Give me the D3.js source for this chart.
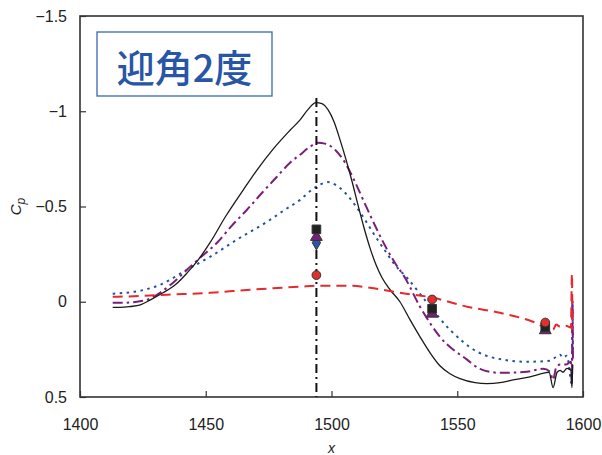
<!DOCTYPE html>
<html>
<head>
<meta charset="utf-8">
<script src="https://cdn.jsdelivr.net/npm/d3@7"></script>
<style>
  body { margin: 0; background: #fff; }
  svg { display: block; font-family: "Liberation Sans", Arial, sans-serif; }
</style>
</head>
<body>
<svg></svg>
<script>
var svgWidth = 602;
var svgHeight = 455;
var margin = {top: 16, right: 19, bottom: 58, left: 80};

var xTicks = [1400, 1450, 1500, 1550, 1600];
var yTicks = [-1.5, -1, -0.5, 0, 0.5];
var legendText = "迎角2度";

// solid black
var seriesBlack = [
  [1413, 0.03], [1416, 0.03], [1420, 0.025], [1424, 0.016], [1428, -0.01],
  [1433, -0.047], [1438, -0.09], [1442.5, -0.15], [1447, -0.22], [1451.7, -0.31],
  [1458, -0.45], [1464.8, -0.585], [1470, -0.685], [1476.7, -0.8], [1483.5, -0.9],
  [1487.5, -0.955], [1490.7, -1.01], [1493.8, -1.045], [1496.2, -1.04], [1498.6, -1.008],
  [1501, -0.945], [1503.4, -0.85], [1505.8, -0.745], [1508.2, -0.63], [1510.5, -0.51],
  [1512.9, -0.39], [1515.3, -0.283], [1517.7, -0.194], [1520.1, -0.126], [1523.3, -0.063],
  [1527.2, 0], [1531.2, 0.094], [1535.2, 0.184], [1539.2, 0.268], [1543.1, 0.336],
  [1547.1, 0.378], [1551.1, 0.404], [1557.1, 0.425], [1561.8, 0.43], [1567, 0.425],
  [1572.2, 0.41], [1578.9, 0.394], [1584.9, 0.373], [1586.5, 0.37], [1588.1, 0.45],
  [1589.7, 0.37], [1590.9, 0.36], [1592, 0.37], [1593.6, 0.35], [1595.2, 0.36],
  [1595.6, 0.45], [1595.9, 0.33]
];

// purple dash-dot
var seriesPurple = [
  [1413, 0.005], [1418, 0.005], [1422.7, 0], [1427.8, -0.016], [1431.8, -0.047],
  [1437, -0.1], [1442.5, -0.168], [1447.7, -0.23], [1454.5, -0.31], [1460.4, -0.4],
  [1466.4, -0.483], [1472.4, -0.572], [1478.3, -0.656], [1483.5, -0.73], [1487.5, -0.772],
  [1491.5, -0.814], [1494.6, -0.835], [1497.4, -0.83], [1501.4, -0.798], [1505.4, -0.73],
  [1509.3, -0.63], [1513.3, -0.514], [1517.3, -0.4], [1521.3, -0.294], [1525.2, -0.205],
  [1529.2, -0.126], [1535.2, 0.026], [1543.1, 0.184], [1553.9, 0.304], [1559, 0.352],
  [1567, 0.373], [1577.7, 0.367], [1584.1, 0.352], [1586.9, 0.367], [1588.1, 0.41],
  [1589.3, 0.346], [1590.9, 0.33], [1593.2, 0.33], [1595.2, 0.315], [1595.6, 0.436],
  [1595.8, -0.01], [1596, 0.3]
];

// blue dotted
var seriesBlue = [
  [1413, -0.042], [1418, -0.047], [1424, -0.058], [1431.8, -0.089], [1442.5, -0.168],
  [1451.7, -0.236], [1463.6, -0.336], [1474.4, -0.42], [1481.5, -0.483], [1487.5, -0.535],
  [1492.2, -0.588], [1495.4, -0.615], [1498.6, -0.628], [1501.8, -0.612], [1505.4, -0.572],
  [1509.3, -0.509], [1513.3, -0.43], [1517.3, -0.346], [1521.3, -0.268], [1525.2, -0.194],
  [1530, -0.126], [1538, 0.005], [1547.1, 0.147], [1557.9, 0.262], [1568.2, 0.304],
  [1577.7, 0.315], [1586.9, 0.31], [1589.3, 0.289], [1590.9, 0.278], [1592, 0.294],
  [1593.6, 0.283], [1595.6, 0.436], [1595.8, 0.016], [1596, 0.3]
];

// red dashed
var seriesRed = [
  [1413, -0.026], [1424, -0.03], [1434.6, -0.037], [1451.7, -0.047], [1467.6, -0.063],
  [1487.5, -0.079], [1495.4, -0.084], [1507.4, -0.084], [1515.3, -0.073], [1527.2, -0.047],
  [1540.4, -0.021], [1553.9, 0.026], [1567, 0.058], [1580.1, 0.105], [1584.9, 0.131],
  [1586.9, 0.126], [1588.1, 0.147], [1589.3, 0.12], [1590.9, 0.131], [1593.2, 0.126],
  [1595.2, 0.136], [1595.6, -0.147], [1595.8, 0.147]
];

var markRed = [[1494, -0.14], [1540, -0.012], [1585, 0.109]];
var markBlue = [[1494, -0.31]];
var markPurple = [[1494, -0.34], [1540, 0.063], [1585, 0.15]];
var markBlack = [[1494, -0.38], [1540, 0.037], [1585, 0.133]];

var stationX = 1494;
var stationTop = -1.07;

var svg = d3.select("svg")
  .attr("width", svgWidth)
  .attr("height", svgHeight);

var w = svgWidth - margin.left - margin.right;
var h = svgHeight - margin.top - margin.bottom;

var x = d3.scaleLinear().domain([1400, 1600]).range([0, w]);
var y = d3.scaleLinear().domain([-1.5, 0.5]).range([0, h]);

var g = svg.append("g")
  .attr("transform", "translate(" + margin.left + "," + margin.top + ")");

var fmt = function(d) { return d < 0 ? "\u2212" + Math.abs(d) : String(d); };

g.append("g")
  .attr("transform", "translate(0," + h + ")")
  .call(d3.axisBottom(x).tickValues(xTicks).tickSize(-6).tickPadding(22).tickFormat(d3.format("d")))
  .call(function(a) {
    a.select(".domain").remove();
    a.selectAll("line").attr("stroke", "#333").attr("stroke-width", 1.2);
    a.selectAll("text").attr("font-size", 16).attr("fill", "#222");
  });

g.append("g")
  .call(d3.axisLeft(y).tickValues(yTicks).tickSize(-6).tickPadding(13).tickFormat(fmt))
  .call(function(a) {
    a.select(".domain").remove();
    a.selectAll("line").attr("stroke", "#333").attr("stroke-width", 1.2);
    a.selectAll("text").attr("font-size", 16).attr("fill", "#222");
  });

g.append("rect")
  .attr("width", w)
  .attr("height", h)
  .attr("fill", "none")
  .attr("stroke", "#333")
  .attr("stroke-width", 1.6);

var line = d3.line()
  .x(function(d) { return x(d[0]); })
  .y(function(d) { return y(d[1]); })
  .curve(d3.curveMonotoneX);

g.append("path").datum(seriesBlue)
  .attr("d", line).attr("fill", "none")
  .attr("stroke", "#2150a3").attr("stroke-width", 2).attr("stroke-dasharray", "2.5,4.5");

g.append("path").datum(seriesPurple)
  .attr("d", line).attr("fill", "none")
  .attr("stroke", "#7a1f78").attr("stroke-width", 2).attr("stroke-dasharray", "10,4,2.5,4");

g.append("path").datum(seriesBlack)
  .attr("d", line).attr("fill", "none")
  .attr("stroke", "#1a1a1a").attr("stroke-width", 1.3);

g.append("path").datum(seriesRed)
  .attr("d", line).attr("fill", "none")
  .attr("stroke", "#e8282c").attr("stroke-width", 2).attr("stroke-dasharray", "10,6");

g.append("line")
  .attr("x1", x(stationX)).attr("x2", x(stationX))
  .attr("y1", y(stationTop)).attr("y2", h)
  .attr("stroke", "#111").attr("stroke-width", 2)
  .attr("stroke-dasharray", "9,4,2,4");

function drawMarks(data, type, size, fill) {
  g.selectAll(null)
    .data(data)
    .enter()
    .append("path")
    .attr("d", d3.symbol().type(type).size(size))
    .attr("transform", function(d) { return "translate(" + x(d[0]) + "," + y(d[1]) + ")"; })
    .attr("fill", fill)
    .attr("stroke", "#333")
    .attr("stroke-width", 1);
}

drawMarks(markBlue, d3.symbolDiamond, 60, "#2a55a8");
drawMarks(markPurple, d3.symbolTriangle, 60, "#7a1f78");
drawMarks(markBlack, d3.symbolSquare, 75, "#222");
drawMarks(markRed, d3.symbolCircle, 60, "#e0302c");

svg.append("rect")
  .attr("x", 97).attr("y", 32)
  .attr("width", 175).attr("height", 64)
  .attr("fill", "#fff")
  .attr("stroke", "#3a66b4")
  .attr("stroke-width", 1.3);

svg.append("text")
  .attr("x", 184.5).attr("y", 65)
  .attr("text-anchor", "middle")
  .attr("dominant-baseline", "central")
  .attr("font-family", "'Noto Sans CJK JP', sans-serif")
  .attr("font-size", 38)
  .attr("font-weight", 500)
  .attr("fill", "#2855a5")
  .text(legendText);

svg.append("text")
  .attr("x", margin.left + x(1500))
  .attr("y", 453)
  .attr("text-anchor", "middle")
  .attr("font-size", 14)
  .attr("font-style", "italic")
  .attr("fill", "#222")
  .text("x");

var yl = svg.append("text")
  .attr("transform", "translate(21," + (margin.top + y(-0.5)) + ") rotate(-90)")
  .attr("text-anchor", "middle")
  .attr("font-size", 15)
  .attr("font-style", "italic")
  .attr("fill", "#222");
yl.append("tspan").text("C");
yl.append("tspan").attr("font-size", 12).attr("dy", 4).text("p");
</script>
</body>
</html>
